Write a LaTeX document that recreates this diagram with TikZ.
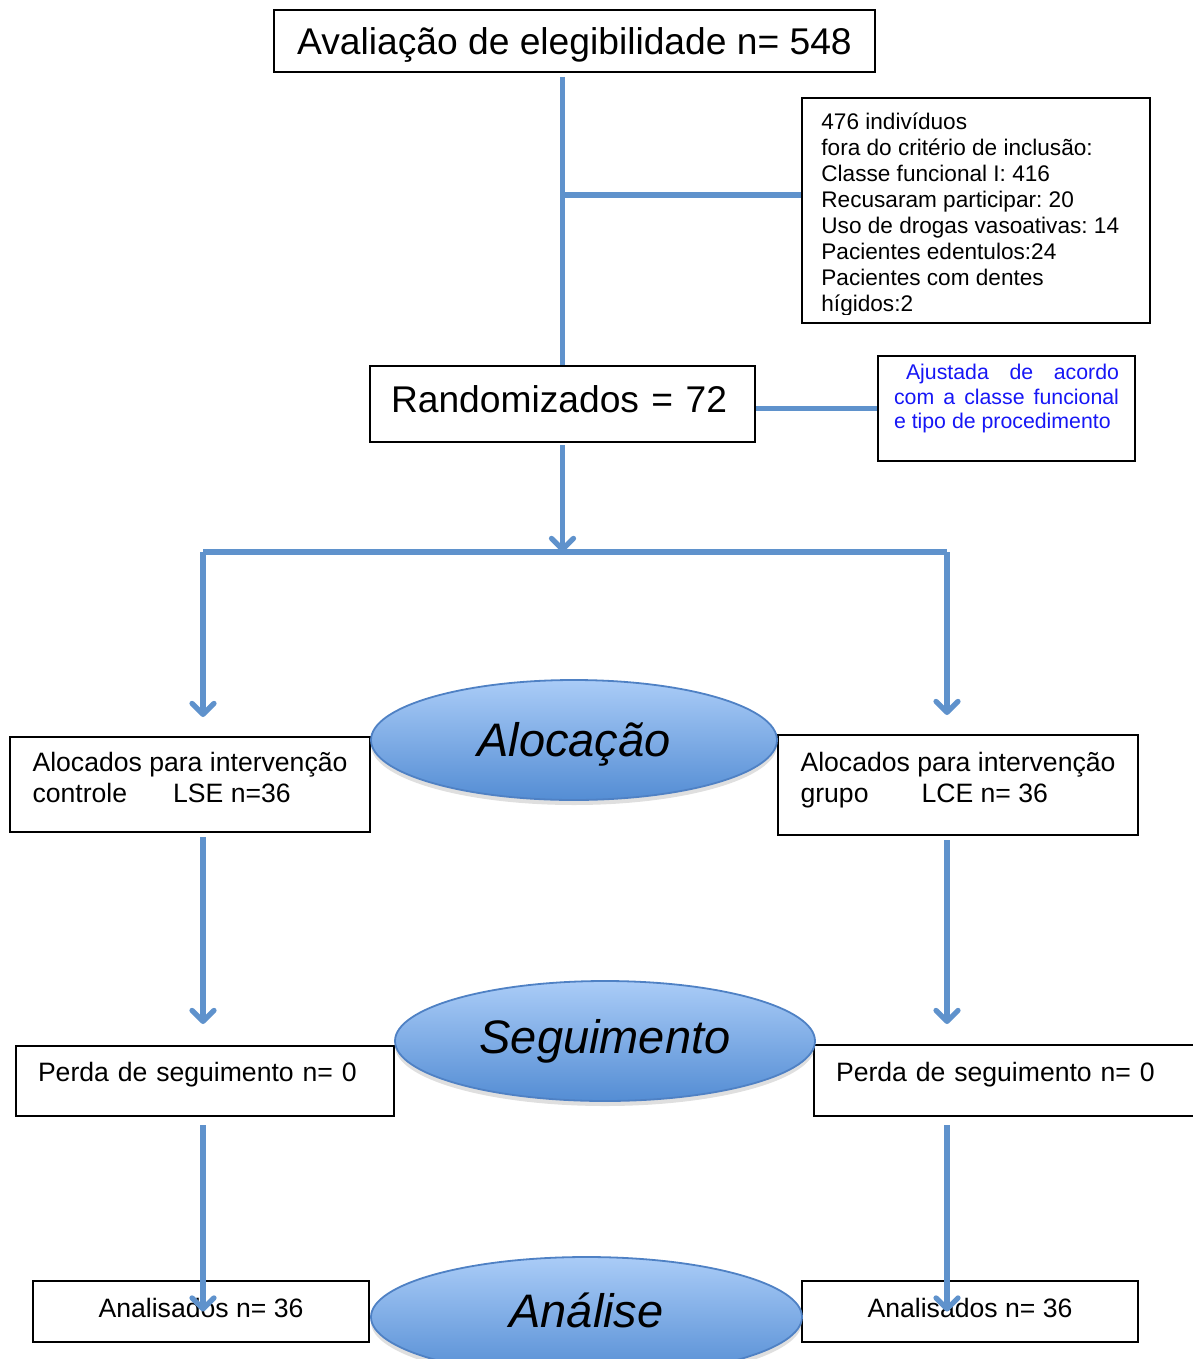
\documentclass[tikz,border=0pt]{standalone}
\usepackage{fontspec}
\setmainfont{Liberation Sans}
\frenchspacing
\usetikzlibrary{arrows.meta, shapes.geometric, shadows, positioning}
\definecolor{lineblue}{RGB}{95,146,204}
\definecolor{ovaltop}{RGB}{170,204,247}
\definecolor{ovalbottom}{RGB}{84,141,212}
\definecolor{ovaledge}{RGB}{79,129,196}
\definecolor{notetext}{RGB}{22,22,245}
\tikzset{> = { Straight Barb[length = 5.5pt, width = 11pt, round] }}
\tikzset{
	box/.style = {draw, line width = 1pt, inner sep = 0pt},
	link/.style = {draw = lineblue, line width = 2.6pt},
	phase/.style = {ellipse, draw = ovaledge, line width = 0.9pt, top color = ovaltop, bottom color = ovalbottom, inner sep = 0pt, minimum height = 60pt, font = \fontsize{23.5}{28}\selectfont\itshape, drop shadow = {opacity = 0.25, shadow xshift = 0pt, shadow yshift = -2.5pt}},
}

\begin{document}
\begin{tikzpicture}[x = 0.5pt, y = -0.5pt]
		\useasboundingbox (0, 0) rectangle (1193, 1359);
		\node [box, minimum width = 300.5pt, minimum height = 31pt, font = \fontsize{18.6}{22}\selectfont, text height = 14pt, text depth = 0pt] (aval) at (574.5, 41) {Avaliação de elegibilidade n= 548};
		\node [box, minimum width = 174pt, minimum height = 112.5pt] (excl) at (976, 210.5) {};
		\begin{scope}
			\clip (excl.north west) rectangle ([yshift = 5pt]excl.south east);
			\node [anchor = north west, inner sep = 0pt, align = left, font = \fontsize{11.3}{13}\selectfont] (excltxt) at ([xshift = 10pt, yshift = -7.5pt]excl.north west) {476 indivíduos\\ fora do critério de inclusão:\\ Classe funcional I: 416\\ Recusaram participar: 20\\ Uso de drogas vasoativas: 14\\ Pacientes edentulos:24\\ Pacientes com dentes\\ hígidos:2};
		\end{scope}
		\node [box, minimum width = 192.5pt, minimum height = 38pt, text width = 171.5pt, inner xsep = 10.5pt, align = left, font = \fontsize{18.6}{22}\selectfont, text depth = 5pt] (rand) at (562.5, 404) {Randomizados = 72};
		\node [box, minimum width = 128.5pt, minimum height = 52.5pt, text width = 112.5pt, align = justify, inner xsep = 8pt, text = notetext, font = \fontsize{10.65}{12.25}\selectfont, text depth = 36.7pt] (ajust) at (1006.5, 408.5) {\hspace*{6pt}Ajustada de acordo\linebreak com a classe funcional\linebreak e tipo de procedimento};

		\node [box, minimum width = 180pt, minimum height = 47.5pt, align = left, font = \fontsize{13.3}{15.5}\selectfont, text depth = 7pt] (alocL) at (190, 784.5) {Alocados para intervenção\\ controle\hspace{23pt}LSE n=36};
		\node [box, minimum width = 180pt, minimum height = 50pt, align = left, font = \fontsize{13.3}{15.5}\selectfont, text depth = 8pt] (alocR) at (958, 785) {Alocados para intervenção\\ grupo\hspace{26.5pt}LCE n= 36};
		\node [box, minimum width = 189pt, minimum height = 35pt, text width = 167pt, inner xsep = 11pt, align = left, font = \fontsize{13.3}{15.5}\selectfont, text depth = 8.8pt] (perdaL) at (205, 1081) {Perda de seguimento n= 0};
		\node [box, anchor = west, minimum width = 200pt, minimum height = 35.5pt, text width = 178pt, inner xsep = 11pt, align = left, font = \fontsize{13.3}{15.5}\selectfont, text depth = 8.8pt] (perdaR) at (813, 1080.5) {Perda de seguimento n= 0};
		\node [box, minimum width = 168pt, minimum height = 30.5pt, font = \fontsize{13.3}{15.5}\selectfont, text depth = 4pt] (anaL) at (201, 1311.5) {Analisados n= 36};
		\node [box, minimum width = 168pt, minimum height = 30.5pt, font = \fontsize{13.3}{15.5}\selectfont, text depth = 4pt] (anaR) at (970, 1311.5) {Analisados n= 36};

		\node [phase, minimum width = 203pt, text depth = 0.7pt] (aloc) at (574, 740) {Alocação};
		\node [phase, minimum width = 210pt] (seg) at (605, 1041) {Seguimento};
		\node [phase, minimum width = 215.5pt, text depth = 7pt] (anal) at (586.5, 1317) {Análise};

		\coordinate (branch) at ([yshift = 7.75pt]excl.west);
		\coordinate (colL) at (203, 552);
		\coordinate (colR) at (947, 552);
		\draw [link, shorten <= 2pt] (rand.north |- aval.south) -- (rand.north);
		\draw [link] (branch) -- (branch -| rand.north);
		\draw [link] (ajust.west -| rand.east) -- (ajust.west);
		\draw [link, ->, shorten <= 1pt] (rand.south) -- (rand.south |- colL);
		\draw [link] (colL) -- (colR);
		\draw [link, ->, shorten >= 9.5pt] (colL) -- (colL |- alocL.north);
		\draw [link, ->, shorten >= 9.5pt] (colR) -- (colR |- alocR.north);
		\draw [link, ->, shorten <= 2pt, shorten >= 10.5pt] (colL |- alocL.south) -- (colL |- perdaL.north);
		\draw [link, ->, shorten <= 2pt, shorten >= 10pt] (colR |- alocR.south) -- (colR |- perdaR.north);
		\draw [link, ->, shorten <= 4pt] (colL |- perdaL.south) -- (colL |- anaL.center);
		\draw [link, ->, shorten <= 4pt] (colR |- perdaR.south) -- (colR |- anaR.center);
	\end{tikzpicture}
\end{document}
